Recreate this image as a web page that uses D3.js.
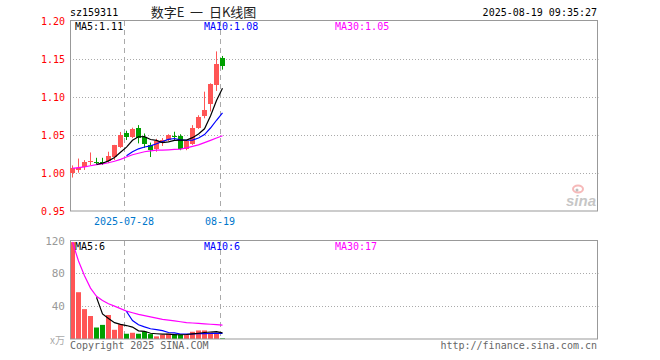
<!DOCTYPE html>
<html>
<head>
<meta charset="utf-8">
<script src="https://cdn.jsdelivr.net/npm/d3@7"></script>
<style>
  body { margin: 0; background: #fff; }
  svg { display: block; }
  text { font-family: "DejaVu Sans Mono", "Liberation Mono", monospace; font-size: 10px; }
</style>
</head>
<body>
<svg id="chart" width="660" height="360"></svg>
<script>
// daily K data, 2025-07-15 .. 2025-08-19
var dates = ["07-15","07-16","07-17","07-18","07-21","07-22","07-23","07-24","07-25","07-28",
             "07-29","07-30","07-31","08-01","08-04","08-05","08-06","08-07","08-08","08-11",
             "08-12","08-13","08-14","08-15","08-18","08-19"];
var open  = [0.999, 1.005, 1.0075, 1.015, 1.0145, 1.015, 1.0158, 1.0215, 1.0346, 1.053,
             1.047, 1.0588, 1.047, 1.0368, 1.0316, 1.039, 1.0434, 1.0488, 1.049, 1.031,
             1.039, 1.060, 1.0757, 1.091, 1.116, 1.151];
var high  = [1.010, 1.019, 1.017, 1.027, 1.020, 1.020, 1.028, 1.037, 1.054, 1.0556,
             1.0596, 1.063, 1.052, 1.040, 1.045, 1.046, 1.051, 1.0543, 1.051, 1.0434,
             1.063, 1.076, 1.107, 1.118, 1.160, 1.154];
var low   = [0.994, 1.0004, 1.004, 1.0105, 1.0105, 1.0105, 1.013, 1.017, 1.033, 1.0434,
             1.046, 1.039, 1.033, 1.021, 1.028, 1.0355, 1.042, 1.043, 1.030, 1.030,
             1.037, 1.058, 1.072, 1.081, 1.108, 1.136];
var close = [1.006, 1.007, 1.0145, 1.016, 1.0135, 1.0135, 1.0224, 1.0368, 1.050, 1.048,
             1.058, 1.0457, 1.038, 1.0303, 1.042, 1.0434, 1.050, 1.0483, 1.0325, 1.042,
             1.0596, 1.074, 1.083, 1.117, 1.144, 1.140];
var ma5   = [null, null, null, null, 1.0114, 1.0129, 1.0160, 1.0204, 1.0272, 1.0341,
             1.0430, 1.0477, 1.0479, 1.0441, 1.0429, 1.0400, 1.0409, 1.0429, 1.0432, 1.0432,
             1.0465, 1.0513, 1.0582, 1.0751, 1.0955, 1.1116];
var ma10  = [null, null, null, null, null, null, null, null, null, 1.0228,
             1.0280, 1.0318, 1.0342, 1.0357, 1.0385, 1.0415, 1.0443, 1.0454, 1.0437, 1.0431,
             1.0433, 1.0461, 1.0506, 1.0592, 1.0694, 1.0790];
var ma30  = [1.006, 1.007, 1.008, 1.0095, 1.011, 1.012, 1.0135, 1.0155, 1.018, 1.021,
             1.024, 1.026, 1.028, 1.029, 1.030, 1.030, 1.0305, 1.031, 1.0315, 1.033,
             1.035, 1.037, 1.040, 1.043, 1.046, 1.049];

// volume (10k)
var volume = [118, 57, 36.4, 28, 14, 17.2, 29.2, 11.2, 18, 6.4,
              7.6, 6.4, 8.8, 6, 3.2, 5.2, 6.4, 6, 5.2, 4.8,
              8.8, 10.4, 10.4, 8, 7.2, 0.8];
var vma5  = [null, null, null, null, 50.7, 30.5, 25.0, 19.9, 17.9, 16.4,
             14.5, 9.9, 9.4, 7.0, 6.4, 5.9, 5.9, 5.4, 5.2, 5.5,
             6.2, 7.0, 7.9, 8.5, 9.0, 7.4];
var vma10 = [null, null, null, null, null, null, null, null, null, 33.5,
             22.5, 17.4, 14.7, 12.5, 11.4, 10.2, 7.9, 7.4, 6.1, 6.0,
             6.1, 6.5, 6.6, 6.8, 7.2, 6.8];
var vma30 = [118, 95, 77, 62, 52, 47, 43, 40, 37, 34,
             32, 30, 28.5, 27, 25.5, 24, 23, 22, 21, 20,
             19.5, 19, 18.5, 18, 17.5, 17];

var priceTicks  = [0.95, 1.00, 1.05, 1.10, 1.15, 1.20];
var volTicks    = [40, 80, 120];
var dateTicks   = ["07-28", "08-19"];
var dateLabels  = ["2025-07-28", "08-19"];

var RED = '#ff5555', GREEN = '#00a000';
var svg = d3.select('#chart');

var left = 70, right = 597.5;
var x = d3.scaleLinear().domain([0, 88]).range([left, left + 528]);
var y = d3.scaleLinear().domain([0.95, 1.20]).range([211, 21]);
var yv = d3.scaleLinear().domain([0, 120]).range([339, 240.5]);

function up(i) { return close[i] >= open[i]; }

// header
svg.append('text').attr('x', 70).attr('y', 16).attr('fill', '#000').text('sz159311');
svg.append('text').attr('x', 203.5).attr('y', 17).attr('text-anchor', 'middle')
  .style('font-family', '"Noto Sans CJK SC", sans-serif').style('font-size', '13px')
  .style('white-space', 'pre')
  .attr('fill', '#222').text('数字E  一  日K线图');
svg.append('text').attr('x', 597).attr('y', 16).attr('text-anchor', 'end')
  .attr('fill', '#000').text('2025-08-19 09:35:27');

// ---------- price panel ----------
var gridP = priceTicks.filter(function(t) { return t > 0.95 && t < 1.20; });
svg.selectAll('.pgrid').data(gridP).enter().append('line')
  .attr('x1', left).attr('x2', right + 1)
  .attr('y1', function(d) { return Math.round(y(d)) + 0.5; })
  .attr('y2', function(d) { return Math.round(y(d)) + 0.5; })
  .attr('stroke', '#aaa').attr('stroke-dasharray', '1,2');

svg.selectAll('.plab').data(priceTicks).enter().append('text')
  .attr('x', 65).attr('y', function(d) { return y(d) + 3.5; })
  .attr('text-anchor', 'end').attr('fill', '#f00')
  .text(function(d) { return d.toFixed(2); });

function vlines(y1, y2) {
  svg.selectAll(null).data(dateTicks).enter().append('line')
    .attr('x1', function(d) { return Math.round(x(dates.indexOf(d))) + 0.5; })
    .attr('x2', function(d) { return Math.round(x(dates.indexOf(d))) + 0.5; })
    .attr('y1', y1).attr('y2', y2)
    .attr('stroke', '#aaa').attr('stroke-dasharray', '5,4');
}
vlines(21, 211);

svg.append('rect').attr('x', left + 0.5).attr('y', 20.5)
  .attr('width', right - left - 0.5).attr('height', 190.5)
  .attr('fill', 'none').attr('stroke', '#999');

svg.selectAll('.dlab').data(dateTicks).enter().append('text')
  .attr('x', function(d) { return x(dates.indexOf(d)); })
  .attr('y', 225).attr('text-anchor', 'middle').attr('fill', '#0077cc')
  .text(function(d, i) { return dateLabels[i]; });

// candles
var idx = d3.range(dates.length);
svg.selectAll('.wick').data(idx).enter().append('line')
  .attr('x1', function(i) { return x(i) + 2.5; })
  .attr('x2', function(i) { return x(i) + 2.5; })
  .attr('y1', function(i) { return y(high[i]); })
  .attr('y2', function(i) { return y(low[i]); })
  .attr('stroke', function(i) { return up(i) ? RED : GREEN; });

svg.selectAll('.body').data(idx).enter().append('rect')
  .attr('x', function(i) { return x(i); })
  .attr('width', 5)
  .attr('y', function(i) { return Math.round(y(Math.max(open[i], close[i]))); })
  .attr('height', function(i) { return Math.max(1, Math.round(Math.abs(y(open[i]) - y(close[i])))); })
  .attr('fill', function(i) { return up(i) ? RED : GREEN; });

function maLine(arr, sy, color) {
  var line = d3.line()
    .defined(function(d) { return d != null; })
    .x(function(d, i) { return x(i) + 2.5; })
    .y(function(d) { return sy(d); });
  svg.append('path').datum(arr).attr('d', line)
    .attr('fill', 'none').attr('stroke', color).attr('stroke-width', 1.2);
}
maLine(ma30, y, '#ff00ff');
maLine(ma10, y, '#0000ff');
maLine(ma5, y, '#000');

svg.append('text').attr('x', 75).attr('y', 30).attr('fill', '#000').text('MA5:' + ma5[25].toFixed(2));
svg.append('text').attr('x', 204).attr('y', 30).attr('fill', '#0000ff').text('MA10:' + ma10[25].toFixed(2));
svg.append('text').attr('x', 335).attr('y', 30).attr('fill', '#ff00ff').text('MA30:' + ma30[25].toFixed(2));

// sina watermark
var wm = svg.append('g').attr('opacity', 0.55);
wm.append('ellipse').attr('cx', 578).attr('cy', 189).attr('rx', 5).attr('ry', 3.5)
  .attr('fill', 'none').attr('stroke', '#f08080').attr('stroke-width', 2);
wm.append('circle').attr('cx', 577).attr('cy', 190).attr('r', 1.5).attr('fill', '#888');
wm.append('text').attr('x', 566).attr('y', 206)
  .style('font-family', '"Liberation Sans", sans-serif').style('font-size', '15px')
  .style('font-style', 'italic').style('font-weight', 'bold')
  .attr('fill', '#999').text('sina');

// ---------- volume panel ----------
svg.selectAll('.vgrid').data([40, 80]).enter().append('line')
  .attr('x1', left).attr('x2', right + 1)
  .attr('y1', function(d) { return Math.round(yv(d)) + 0.5; })
  .attr('y2', function(d) { return Math.round(yv(d)) + 0.5; })
  .attr('stroke', '#aaa').attr('stroke-dasharray', '1,2');

vlines(241, 339);

svg.selectAll('.vbar').data(idx).enter().append('rect')
  .attr('x', function(i) { return x(i); })
  .attr('width', 5)
  .attr('y', function(i) { return yv(volume[i]); })
  .attr('height', function(i) { return yv(0) - yv(volume[i]); })
  .attr('fill', function(i) { return up(i) ? RED : GREEN; });

maLine(vma30, yv, '#ff00ff');
maLine(vma10, yv, '#0000ff');
maLine(vma5, yv, '#000');

svg.append('rect').attr('x', left + 0.5).attr('y', 240.5)
  .attr('width', right - left - 0.5).attr('height', 98.5)
  .attr('fill', 'none').attr('stroke', '#999');

svg.selectAll('.vlab').data(volTicks).enter().append('text')
  .attr('x', 65).attr('y', function(d) { return yv(d) + 4; })
  .attr('text-anchor', 'end').attr('fill', '#999')
  .style('font-size', '11px')
  .text(function(d) { return d; });
svg.append('text').attr('x', 65).attr('y', 344).attr('text-anchor', 'end')
  .style('font-family', '"Noto Sans CJK SC", sans-serif').style('font-size', '10px')
  .attr('fill', '#aaa').text('x万');

svg.append('text').attr('x', 75).attr('y', 250).attr('fill', '#000').text('MA5:6');
svg.append('text').attr('x', 204).attr('y', 250).attr('fill', '#0000ff').text('MA10:6');
svg.append('text').attr('x', 335).attr('y', 250).attr('fill', '#ff00ff').text('MA30:17');

svg.append('text').attr('x', 70).attr('y', 349).attr('fill', '#666').text('Copyright 2025 SINA.COM');
svg.append('text').attr('x', 597).attr('y', 349).attr('text-anchor', 'end')
  .attr('fill', '#666').text('http://finance.sina.com.cn');
</script>
</body>
</html>
